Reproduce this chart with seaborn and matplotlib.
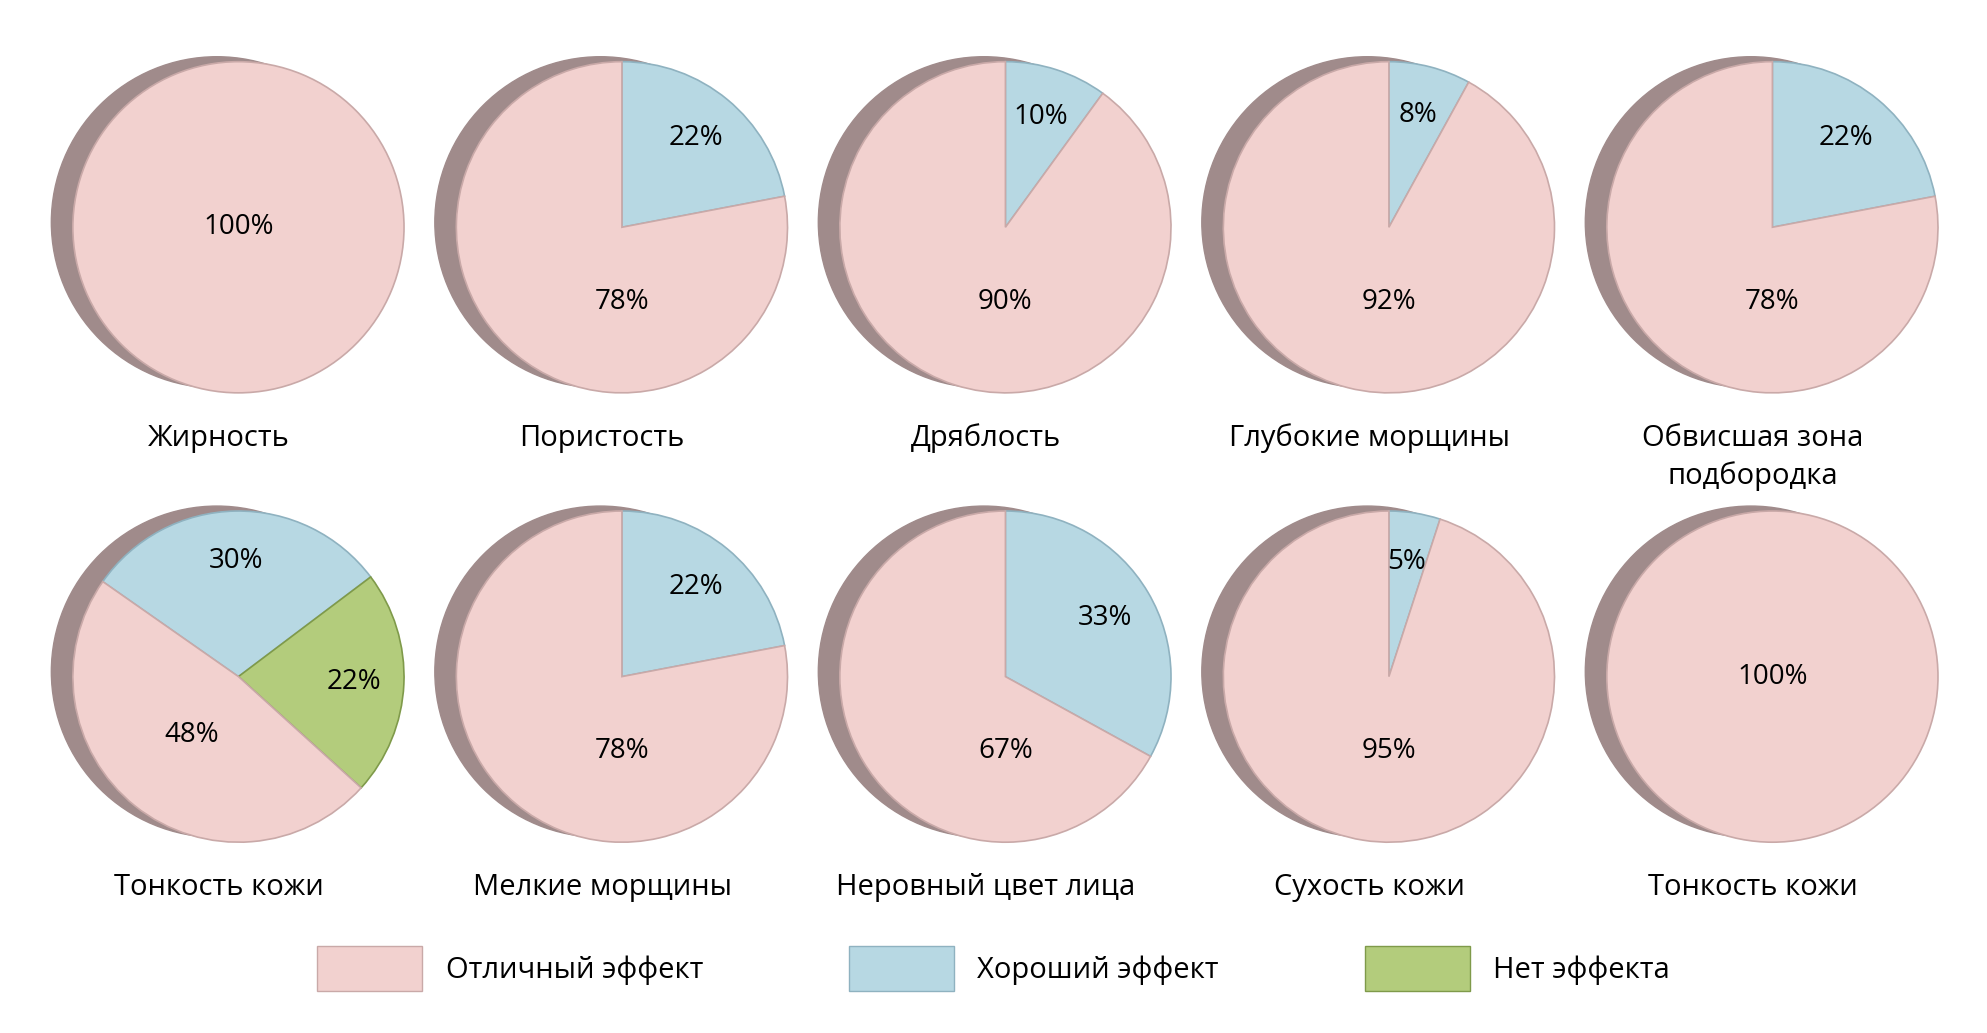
import numpy as np
import matplotlib
matplotlib.use("Agg")
import matplotlib.pyplot as plt
from matplotlib.patches import Circle, Patch
import seaborn as sns

sns.set_theme(style="white")
plt.rcParams['font.family'] = ['Open Sans', 'DejaVu Sans']
plt.rcParams['text.color'] = 'black'

titles = ["Жирность", "Пористость", "Дряблость", "Глубокие морщины", "Обвисшая зона\nподбородка",
          "Тонкость кожи", "Мелкие морщины", "Неровный цвет лица", "Сухость кожи", "Тонкость кожи"]
excellent = [100, 78, 90, 92, 78, 48, 78, 67, 95, 100]
good = [0, 22, 10, 8, 22, 30, 22, 33, 5, 0]
none_eff = [0, 0, 0, 0, 0, 22, 0, 0, 0, 0]
legend_labels = ["Отличный эффект", "Хороший эффект", "Нет эффекта"]

colors = {"exc": "#f2d1cf", "good": "#b7d8e3", "none": "#b3cc7c"}
edges = {"exc": "#c9a9a8", "good": "#8fb2c0", "none": "#7f9a4a"}
shadow = "#a08b8b"

fig = plt.figure(figsize=(19.87, 10.33), dpi=100)
width = 0.19
xs = [0.02, 0.213, 0.406, 0.599, 0.792]
ys = [0.6, 0.165]

for i, t in enumerate(titles):
    ax = fig.add_axes([xs[i % 5], ys[i // 5], width, 0.36])
    ax.set_aspect("equal")
    ax.axis("off")
    ax.add_patch(Circle((-0.13, 0.03), 1.0, color=shadow, zorder=0))
    if none_eff[i] > 0:
        vals = [good[i], none_eff[i], excellent[i]]
        keys = ["good", "none", "exc"]
        start = 145
    else:
        vals = [good[i], excellent[i]]
        keys = ["good", "exc"]
        start = 90
    vals_k = [(v, k) for v, k in zip(vals, keys) if v > 0]
    wedges, texts = ax.pie([v for v, _ in vals_k], startangle=start, counterclock=False,
                           colors=[colors[k] for _, k in vals_k], radius=1.0)
    for w, (v, k) in zip(wedges, vals_k):
        w.set_edgecolor(edges[k])
        w.set_linewidth(1.2)
        w.set_zorder(2)
        if len(vals_k) == 1:
            ax.text(0, 0, f"{v}%", ha="center", va="center", fontsize=20, zorder=5)
            continue
        ang = np.deg2rad((w.theta1 + w.theta2) / 2)
        d = 0.7 if v < 40 else 0.45
        if k == "exc" and len(vals_k) == 2:
            ax.text(0, -0.45, f"{v}%", ha="center", va="center", fontsize=20, zorder=5)
        else:
            ax.text(d * np.cos(ang), d * np.sin(ang), f"{v}%", ha="center", va="center",
                    fontsize=20, zorder=5)
    ax.set_xlim(-1.2, 1.08)
    ax.set_ylim(-1.06, 1.06)
    fig.text(xs[i % 5] + width / 2 - 0.005, ys[i // 5] - 0.01, t, ha="center", va="top",
             fontsize=21, linespacing=1.4)

handles = [Patch(facecolor=colors[k], edgecolor=edges[k], label=l)
           for k, l in zip(["exc", "good", "none"], legend_labels)]
fig.legend(handles=handles, loc="lower center", bbox_to_anchor=(0.5, 0.015), ncol=3,
           frameon=False, fontsize=21, handlelength=3.6, handleheight=2.0, columnspacing=5)

fig.savefig("out.png", dpi=100, facecolor="white")
